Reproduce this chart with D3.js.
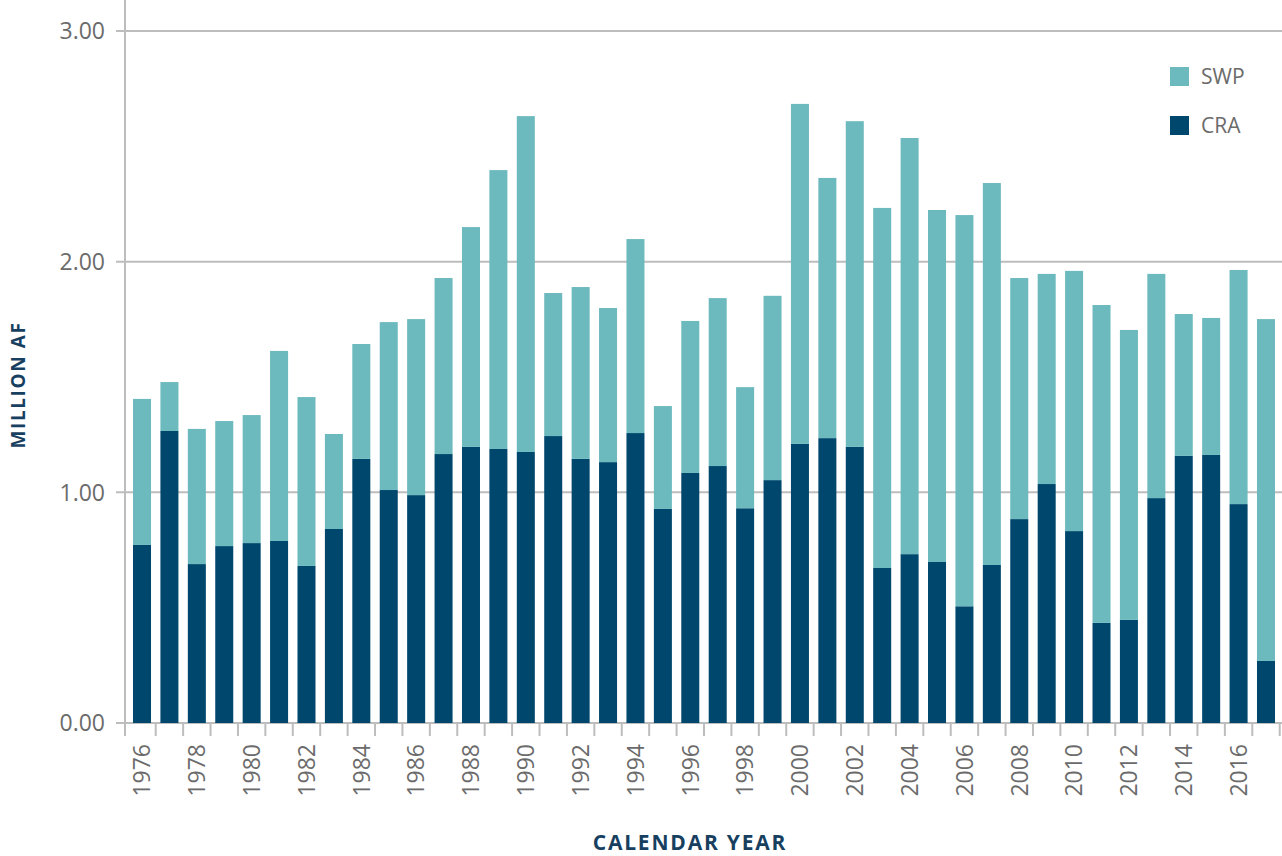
<!DOCTYPE html>
<html lang="en">
<head>
    <meta charset="UTF-8">
    <title>Imports by source</title>
    <script src="https://d3js.org/d3.v7.min.js"></script>
    <style>
        body { margin: 0; background: #fff; }
        text { font-family: "Open Sans", sans-serif; }
        .tick-label { fill: #6b6b6b; font-size: 23px; }
        .axis-title { fill: #173f5f; font-weight: bold; font-size: 21px; letter-spacing: 1.8px; }
        .grid { stroke: #bdbdbd; stroke-width: 2; }
    </style>
</head>
<body>
    <svg width="1282" height="856"></svg>
    <script>
        var years = d3.range(1976, 2018);
        var cra = [0.772, 1.266, 0.689, 0.767, 0.780, 0.789, 0.681, 0.841, 1.145, 1.010,
                   0.988, 1.166, 1.197, 1.188, 1.175, 1.244, 1.145, 1.131, 1.257, 0.928,
                   1.084, 1.114, 0.931, 1.053, 1.210, 1.235, 1.197, 0.672, 0.732, 0.698,
                   0.506, 0.685, 0.884, 1.036, 0.832, 0.434, 0.447, 0.975, 1.158, 1.162,
                   0.949, 0.269];
        var swp = [0.633, 0.212, 0.586, 0.542, 0.555, 0.824, 0.732, 0.412, 0.498, 0.728,
                   0.763, 0.763, 0.953, 1.209, 1.456, 0.620, 0.745, 0.668, 0.841, 0.446,
                   0.659, 0.728, 0.525, 0.799, 1.474, 1.128, 1.412, 1.561, 1.804, 1.526,
                   1.696, 1.656, 1.045, 0.911, 1.128, 1.378, 1.257, 0.972, 0.615, 0.594,
                   1.015, 1.482];
        var yTicks = [0, 1, 2, 3];
        var seriesNames = ["SWP", "CRA"];
        var colors = { SWP: "#6cb9be", CRA: "#00476d" };

        var svg = d3.select("svg");

        var x = d3.scaleBand().domain(years).range([128.3, 1279.7]).padding(0);
        var barW = x.bandwidth() * 0.657;
        var y = d3.scaleLinear().domain([0, 3]).range([723, 31]);

        // gridlines + y ticks
        svg.selectAll(".grid")
            .data(yTicks)
            .enter().append("line")
            .attr("class", "grid")
            .attr("x1", 116).attr("x2", 1282)
            .attr("y1", function (d) { return y(d); })
            .attr("y2", function (d) { return y(d); });

        svg.selectAll(".ylab")
            .data(yTicks)
            .enter().append("text")
            .attr("class", "tick-label")
            .attr("x", 105)
            .attr("y", function (d) { return y(d); })
            .attr("dy", "0.36em")
            .attr("text-anchor", "end")
            .text(function (d) { return d3.format(".2f")(d); });

        // stacked bars
        var rows = years.map(function (yr, i) { return { year: yr, CRA: cra[i], SWP: swp[i] }; });
        var stack = d3.stack().keys(["CRA", "SWP"])(rows);

        svg.selectAll(".layer")
            .data(stack)
            .enter().append("g")
            .attr("fill", function (d) { return colors[d.key]; })
            .selectAll("rect")
            .data(function (d) { return d; })
            .enter().append("rect")
            .attr("x", function (d) { return x(d.data.year) + (x.bandwidth() - barW) / 2; })
            .attr("y", function (d) { return y(d[1]); })
            .attr("width", barW)
            .attr("height", function (d) { return y(d[0]) - y(d[1]); });

        // y axis line
        svg.append("line").attr("class", "grid")
            .attr("x1", 125).attr("x2", 125)
            .attr("y1", 0).attr("y2", 736);

        // x ticks at band boundaries
        svg.selectAll(".xtick")
            .data(years)
            .enter().append("line")
            .attr("class", "grid")
            .attr("x1", function (d) { return x(d) + x.bandwidth(); })
            .attr("x2", function (d) { return x(d) + x.bandwidth(); })
            .attr("y1", 724).attr("y2", 736);

        svg.selectAll(".xlab")
            .data(years.filter(function (d) { return d % 2 === 0; }))
            .enter().append("text")
            .attr("class", "tick-label")
            .attr("transform", function (d) {
                return "translate(" + (x(d) + x.bandwidth() / 2) + ",744) rotate(-90)";
            })
            .attr("dy", "0.36em")
            .attr("text-anchor", "end")
            .text(function (d) { return d; });

        // axis titles
        svg.append("text")
            .attr("class", "axis-title")
            .attr("transform", "translate(25,385) rotate(-90)")
            .attr("text-anchor", "middle")
            .style("font-size", "19px")
            .style("letter-spacing", "1.6px")
            .text("MILLION AF");

        svg.append("text")
            .attr("class", "axis-title")
            .attr("x", 690).attr("y", 850)
            .attr("text-anchor", "middle")
            .text("CALENDAR YEAR");

        // legend
        var legend = svg.selectAll(".legend")
            .data(seriesNames)
            .enter().append("g")
            .attr("transform", function (d, i) { return "translate(1170," + (67 + i * 49) + ")"; });

        legend.append("rect")
            .attr("width", 19).attr("height", 19)
            .attr("fill", function (d) { return colors[d]; });

        legend.append("text")
            .attr("class", "tick-label")
            .attr("x", 31).attr("y", 9.5)
            .attr("dy", "0.36em")
            .style("font-size", "21px")
            .text(function (d) { return d; });
    </script>
</body>
</html>
